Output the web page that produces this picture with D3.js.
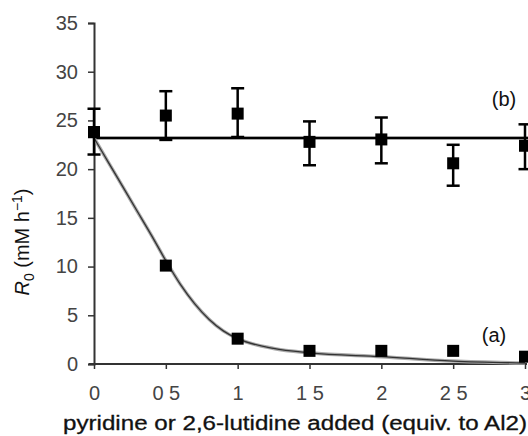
<!DOCTYPE html>
<html>
<head>
<meta charset="utf-8">
<script src="https://cdn.jsdelivr.net/npm/d3@7/dist/d3.min.js"></script>
<style>
  body { margin: 0; background: #fff; }
  svg { display: block; font-family: "Liberation Sans", Arial, sans-serif; }
</style>
</head>
<body>
<div id="container"></div>
<script>
// series (b): 2,6-lutidine, with error bars
const xB = [0, 0.5, 1, 1.5, 2, 2.5, 3];
const yB = [23.8, 25.5, 25.7, 22.8, 23.05, 20.6, 22.4];
const errLoB = [21.5, 23.0, 23.3, 20.4, 20.6, 18.3, 20.0];
const errHiB = [26.2, 28.0, 28.3, 24.9, 25.3, 22.5, 24.6];
const fitB = 23.2;

// series (a): pyridine
const xA = [0, 0.5, 1, 1.5, 2, 2.5, 3];
const yA = [23.8, 10.1, 2.6, 1.35, 1.35, 1.35, 0.75];

// fitted curve for (a)
const fitAx = [0, 0.1, 0.2, 0.3, 0.4, 0.5, 0.6, 0.7, 0.8, 0.9, 1.0, 1.25, 1.5, 2.0, 2.5, 3.0];
const fitAy = [23.2, 20.7, 18.2, 15.7, 13.2, 10.6, 8.2, 6.2, 4.6, 3.4, 2.6, 1.6, 1.15, 0.75, 0.3, 0.1];

const xTicks = [0, 0.5, 1, 1.5, 2, 2.5, 3];
const xTickLabels = ['0', '0 5', '1', '1 5', '2', '2 5', '3'];
const yTicks = [0, 5, 10, 15, 20, 25, 30, 35];

const width = 528;
const height = 436;
const svg = d3.select('#container').append('svg')
  .attr('width', width)
  .attr('height', height);

const x = d3.scaleLinear().domain([0, 3]).range([94, 525]);
const y = d3.scaleLinear().domain([0, 35]).range([364, 23]);

// axes
const yAxis = svg.append('g')
  .attr('transform', `translate(${x(0)},0)`)
  .call(d3.axisLeft(y).tickValues(yTicks).tickSize(6).tickPadding(10));
const xAxis = svg.append('g')
  .attr('transform', `translate(0,${y(0)})`)
  .call(d3.axisBottom(x).tickValues(xTicks).tickSize(5).tickPadding(17)
    .tickFormat((d, i) => xTickLabels[i]));

[yAxis, xAxis].forEach(g => {
  g.select('.domain').attr('stroke', '#333').attr('stroke-width', 2);
  g.selectAll('.tick line').attr('stroke', '#333').attr('stroke-width', 1.5);
  g.selectAll('.tick text')
    .attr('fill', '#444')
    .style('font-size', '20px')
    .style('font-family', '"Liberation Sans", Arial, sans-serif');
});
xAxis.select('.domain').attr('d', `M${x(0) - 5},0H${x(3) + 2}`);

// fit line (b)
svg.append('line')
  .attr('x1', x(0)).attr('x2', x(3) + 3)
  .attr('y1', y(fitB)).attr('y2', y(fitB))
  .attr('stroke', '#888').attr('stroke-width', 3.5);
svg.append('line')
  .attr('x1', x(0)).attr('x2', x(3) + 3)
  .attr('y1', y(fitB)).attr('y2', y(fitB))
  .attr('stroke', '#000').attr('stroke-width', 2);

// fit curve (a)
const curvePts = fitAx.map((d, i) => [d, fitAy[i]]);
const line = d3.line().x(d => x(d[0])).y(d => y(d[1])).curve(d3.curveMonotoneX);
svg.append('path').datum(curvePts)
  .attr('d', line).attr('fill', 'none')
  .attr('stroke', '#aaa').attr('stroke-width', 3.5);
svg.append('path').datum(curvePts)
  .attr('d', line).attr('fill', 'none')
  .attr('stroke', '#333').attr('stroke-width', 1.3);

// error bars (b)
const eb = svg.append('g').attr('stroke', '#000');
xB.forEach((d, i) => {
  eb.append('line')
    .attr('x1', x(d)).attr('x2', x(d))
    .attr('y1', y(errLoB[i])).attr('y2', y(errHiB[i]))
    .attr('stroke-width', 2.5);
  [errLoB[i], errHiB[i]].forEach(v => {
    eb.append('line')
      .attr('x1', x(d) - 6.5).attr('x2', x(d) + 6.5)
      .attr('y1', y(v)).attr('y2', y(v))
      .attr('stroke-width', 2.5);
  });
});

// markers
const sq = 12;
svg.append('g').selectAll('rect.b')
  .data(xB).enter().append('rect')
  .attr('x', d => x(d) - sq / 2)
  .attr('y', (d, i) => y(yB[i]) - sq / 2)
  .attr('width', sq).attr('height', sq)
  .attr('fill', '#000');
svg.append('g').selectAll('rect.a')
  .data(xA).enter().append('rect')
  .attr('x', d => x(d) - sq / 2)
  .attr('y', (d, i) => y(yA[i]) - sq / 2)
  .attr('width', sq).attr('height', sq)
  .attr('fill', '#000');

// series labels
svg.append('text').attr('x', 504).attr('y', 106)
  .attr('text-anchor', 'middle').style('font-size', '20px').attr('fill', '#111')
  .text('(b)');
svg.append('text').attr('x', 494).attr('y', 342)
  .attr('text-anchor', 'middle').style('font-size', '20px').attr('fill', '#111')
  .text('(a)');

// axis titles
svg.append('text')
  .attr('x', 63).attr('y', 430)
  .attr('textLength', 464).attr('lengthAdjust', 'spacingAndGlyphs')
  .style('font-size', '20px').attr('fill', '#111')
  .attr('stroke', '#111').attr('stroke-width', 0.3)
  .text('pyridine or 2,6-lutidine added (equiv. to Al2)');

const yt = svg.append('text')
  .attr('transform', 'translate(29,242) rotate(-90)')
  .attr('text-anchor', 'middle')
  .style('font-size', '20px').attr('fill', '#111');
yt.append('tspan').style('font-style', 'italic').text('R');
yt.append('tspan').attr('dy', 5).style('font-size', '14px').text('0');
yt.append('tspan').attr('dy', -5).text(' (mM h');
yt.append('tspan').attr('dy', -7).style('font-size', '14px').text('−1');
yt.append('tspan').attr('dy', 7).text(')');
</script>
</body>
</html>
